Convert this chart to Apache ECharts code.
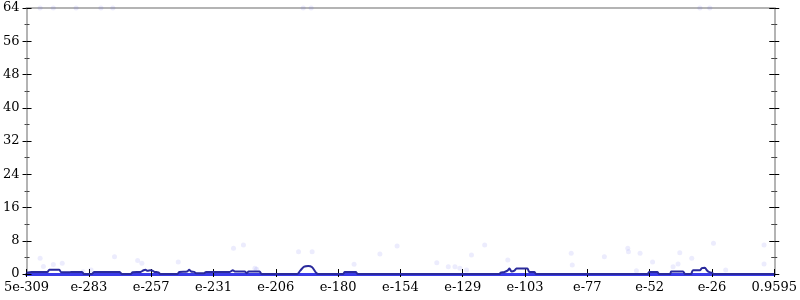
<!DOCTYPE html>
<html>
<head>
<meta charset="utf-8">
<script src="https://cdn.jsdelivr.net/npm/echarts@6/dist/echarts.min.js"></script>
<style>html,body{margin:0;padding:0;background:#fff;}#c{width:800px;height:300px;}</style>
</head>
<body>
<div id="c"></div>
<script>
// x values are log10 of the data value; y is density/count
var xMin = -308.30;
var xMax = -0.018;
var tickVals = [-308.30, -282.61, -256.92, -231.23, -205.54, -179.85, -154.16, -128.47, -102.78, -77.09, -51.40, -25.71, -0.018];
var tickLabels = ['5e-309', 'e-283', 'e-257', 'e-231', 'e-206', 'e-180', 'e-154', 'e-129', 'e-103', 'e-77', 'e-52', 'e-26', '0.9595'];
var yTicks = [0, 8, 16, 24, 32, 40, 48, 56, 64];

var densX = [-308.30, -306.26, -299.71, -298.90, -294.81, -293.99, -290.72, -289.90, -285.40, -284.59,
  -281.32, -280.50, -269.87, -269.05, -265.37, -264.55, -261.28, -260.05, -259.23, -258.42,
  -257.19, -256.37, -255.55, -253.92, -253.10, -246.15, -245.34, -242.06, -241.25, -240.43,
  -239.20, -238.38, -235.11, -234.30, -224.48, -223.26, -222.44, -218.35, -217.53, -216.72,
  -212.22, -211.40, -196.68, -195.45, -193.82, -192.18, -190.54, -188.91, -188.09, -177.87,
  -177.06, -172.56, -171.74, -113.27, -112.86, -111.23, -110.00, -109.18, -108.36, -107.13,
  -106.32, -105.50, -101.82, -101.00, -98.96, -98.14, -52.35, -51.53, -48.26, -47.44,
  -42.94, -42.53, -37.62, -36.81, -34.36, -33.54, -30.68, -29.86, -28.63, -27.82,
  -27.00, -25.77, -24.95, -0.02];
var densY = [0.3, 0.5, 0.5, 1.0, 1.0, 0.4, 0.4, 0.5, 0.5, 0,
  0, 0.5, 0.5, 0, 0, 0.4, 0.5, 0.9, 1.0, 0.8,
  0.9, 0.8, 0.5, 0.4, 0, 0, 0.5, 0.6, 1.0, 0.6,
  0.5, 0.2, 0.2, 0.5, 0.5, 0.9, 0.6, 0.6, 0.2, 0.6,
  0.6, 0, 0, 0.8, 1.8, 1.9, 1.6, 0.3, 0, 0,
  0.5, 0.5, 0, 0, 0.3, 0.5, 0.8, 1.3, 0.6, 0.8,
  1.3, 1.3, 1.3, 0.5, 0.5, 0, 0, 0.5, 0.5, 0,
  0, 0.6, 0.6, 0, 0, 0.9, 0.9, 1.4, 1.5, 0.9,
  0.5, 0.3, 0, 0];

var ptsX = [-302.70, -301.35, -297.26, -293.58, -284.99, -281.72, -272.03, -262.50, -260.75, -245.74,
  -222.97, -218.88, -213.44, -214.14, -196.15, -190.55, -173.25, -162.62, -155.51, -139.16,
  -134.41, -131.67, -129.63, -126.89, -124.85, -119.41, -109.88, -83.72, -83.31, -70.06,
  -60.41, -60.13, -55.34, -56.85, -50.19, -41.73, -39.68, -38.98, -34.04, -25.08,
  -20.05, -4.23, -4.23,
  -302.70, -297.26, -287.86, -277.64, -272.73, -194.23, -190.96, -30.68, -26.59];
var ptsY = [3.78, 1.80, 2.29, 2.57, 0.55, 0.96, 4.16, 3.25, 2.57, 2.89,
  6.18, 6.98, 1.13, 1.37, 5.37, 5.37, 2.33, 4.81, 6.74, 2.72,
  1.76, 1.76, 1.37, 0.96, 4.57, 6.98, 3.37, 4.98, 2.17, 4.16,
  6.18, 5.37, 4.98, 0.79, 2.89, 1.76, 2.41, 5.13, 3.78, 7.39,
  0.96, 6.98, 2.41,
  64, 64, 64, 64, 64, 64, 64, 64, 64];

var dens = densX.map(function (x, i) { return [x, densY[i]]; });
var pts = ptsX.map(function (x, i) { return [x, ptsY[i]]; });

var FONT = 'DejaVu Serif';
var grey = '#b4b4b4';

function yAx(pos, inside, len, mlen, showLine, showLabel) {
  return {
    type: 'value', position: pos, min: 0, max: 64, interval: 8,
    axisLine: { show: showLine, lineStyle: { color: grey, width: 2 } },
    axisTick: { show: true, inside: inside, length: len, lineStyle: { color: '#000', width: 1 } },
    minorTick: { show: true, splitNumber: 2, length: mlen, lineStyle: { color: '#444', width: 1 } },
    axisLabel: { show: showLabel, margin: 7, color: '#000', fontFamily: FONT, fontSize: 13,
      formatter: function (v) { return String(v); } },
    splitLine: { show: false }
  };
}

var chart = echarts.init(document.getElementById('c'), null, { renderer: 'canvas' });
chart.setOption({
  animation: false,
  backgroundColor: '#fff',
  grid: { left: 23, right: 23, top: 8, bottom: 26, containLabel: false },
  xAxis: [
    { type: 'value', position: 'bottom', min: xMin, max: xMax,
      axisLine: { show: true, onZero: false, lineStyle: { color: '#3a3ae8', width: 3 } },
      axisTick: { show: true, inside: false, length: 3, customValues: tickVals, lineStyle: { color: '#000', width: 1 } },
      axisLabel: { show: true, margin: 7, customValues: tickVals, showMinLabel: true, showMaxLabel: true, hideOverlap: false,
        color: '#000', fontFamily: FONT, fontSize: 13,
        formatter: function (v) {
          var best = 0, bd = Infinity;
          for (var i = 0; i < tickVals.length; i++) { var d = Math.abs(tickVals[i] - v); if (d < bd) { bd = d; best = i; } }
          return tickLabels[best];
        } },
      splitLine: { show: false } },
    { type: 'value', position: 'bottom', min: xMin, max: xMax,
      axisLine: { show: false, onZero: false },
      axisTick: { show: true, inside: true, length: 5, customValues: tickVals, lineStyle: { color: '#000', width: 1 } },
      axisLabel: { show: false }, splitLine: { show: false } },
    { type: 'value', position: 'top', min: xMin, max: xMax,
      axisLine: { show: true, onZero: false, lineStyle: { color: grey, width: 2 } },
      axisTick: { show: false }, axisLabel: { show: false }, splitLine: { show: false } }
  ],
  yAxis: [
    yAx('left', false, 4, 2, true, true),
    yAx('left', true, 5, 3, false, false),
    yAx('right', false, 5, 3, true, false),
    yAx('right', true, 5, 3, false, false)
  ],
  series: [
    { name: 'points', type: 'scatter', data: pts, symbolSize: 5, z: 2,
      itemStyle: { color: 'rgba(70,70,240,0.13)' }, clip: false },
    { name: 'density', type: 'line', data: dens, showSymbol: false, symbol: 'none', smooth: 0.25, z: 3,
      lineStyle: { color: '#2a2a9c', width: 2 } }
  ]
});
</script>
</body>
</html>
